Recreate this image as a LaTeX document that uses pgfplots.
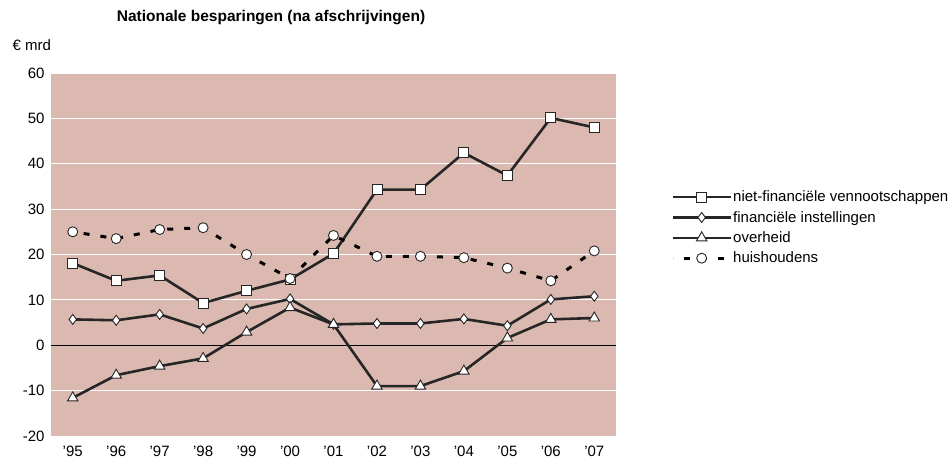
\documentclass[border=0pt]{standalone}
\usepackage{pgfplots}
\pgfplotsset{compat=1.18}
\usepackage{fontspec}
\setmainfont{Liberation Sans}
\definecolor{bg}{RGB}{219,185,176}
\definecolor{ln}{RGB}{38,38,38}
\pgfplotstableread{
x vn fi ov hh
0 18.1 5.7 -11.6 25.0
1 14.2 5.5 -6.6 23.5
2 15.4 6.8 -4.6 25.5
3 9.3 3.7 -2.9 25.9
4 12.0 8.0 2.9 20.0
5 14.5 10.2 8.3 14.7
6 20.2 4.6 4.6 24.2
7 34.3 4.8 -9.0 19.6
8 34.3 4.8 -9.0 19.6
9 42.4 5.8 -5.7 19.3
10 37.4 4.3 1.6 17.0
11 50.1 10.1 5.7 14.2
12 48.0 10.8 6.0 20.8
}\data
\begin{document}
\begin{tikzpicture}[x=1pt,y=1pt]
\path[use as bounding box] (0,0) rectangle (948,465);
\node[font=\bfseries\fontsize{15.5}{18}\selectfont] at (271,447) {Nationale besparingen (na afschrijvingen)};
\node[anchor=west,font=\fontsize{15}{18}\selectfont] at (9,420) {€ mrd};
\begin{axis}[
  at={(51pt,29pt)}, anchor=south west,
  scale only axis, width=565pt, height=363pt,
  xmin=-0.5, xmax=12.5, ymin=-20, ymax=60,
  xtick={0,...,12},
  xticklabels={'95,'96,'97,'98,'99,'00,'01,'02,'03,'04,'05,'06,'07},
  ytick={-20,-10,0,10,20,30,40,50,60},
  axis background/.style={fill=bg},
  axis line style={draw=none},
  tick style={draw=none},
  ymajorgrids, major grid style={white, line width=0.9pt},
  ticklabel style={font=\fontsize{15}{18}\selectfont},
  /pgf/number format/assume math mode=true,
  yticklabel style={xshift=-3pt},
  xticklabel style={yshift=-6pt},
  legend style={at={(1.092,0.574)}, anchor=west, draw=none, fill=none,
    font=\fontsize{15}{18}\selectfont, row sep=4pt,
    nodes={inner xsep=1pt}},
  legend cell align=left,
  legend image code/.code={\draw[mark repeat=2,mark phase=2] plot coordinates {(0pt,0pt) (29pt,0pt) (58pt,0pt)};},
  clip=false,
]
\addplot[black, line width=0.7pt, forget plot] coordinates {(-0.5,0) (12.5,0)};
\addplot[ln, line width=2.6pt, mark=square*, mark size=5pt, mark options={fill=white, draw=ln, line width=0.9pt, solid}] table[x=x,y=vn] {\data};
\addlegendentry{niet-financiële vennootschappen}
\addplot[ln, line width=2.6pt, mark=diamond*, mark size=5pt, mark options={fill=white, draw=ln, line width=0.9pt, solid}] table[x=x,y=fi] {\data};
\addlegendentry{financiële instellingen}
\addplot[ln, line width=2.6pt, mark=triangle*, mark size=6pt, mark options={fill=white, draw=ln, line width=0.9pt, solid}] table[x=x,y=ov] {\data};
\addlegendentry{overheid}
\addplot[black, line width=3pt, dash pattern=on 6pt off 11pt, dash phase=-11pt, mark=*, mark size=5pt, mark options={fill=white, draw=ln, line width=0.9pt, solid}] table[x=x,y=hh] {\data};
\addlegendentry{huishoudens}
\end{axis}
\end{tikzpicture}
\end{document}
